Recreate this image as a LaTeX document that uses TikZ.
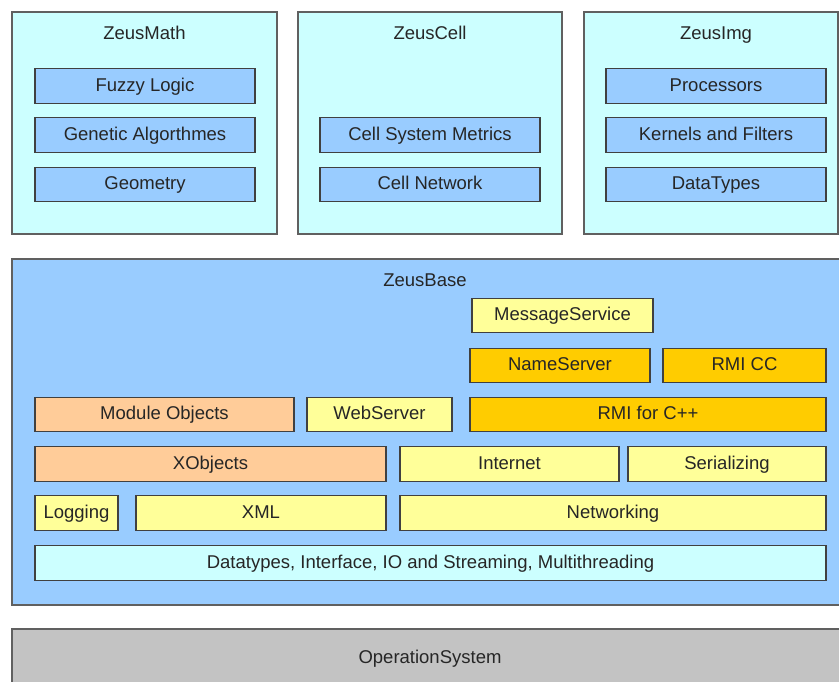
\documentclass[tikz,border=0pt]{standalone}
\usepackage{fontspec}
\setmainfont{Liberation Sans}
\definecolor{cyanl}{HTML}{CCFFFF}
\definecolor{bluel}{HTML}{99CCFF}
\definecolor{peach}{HTML}{FFCC99}
\definecolor{yell}{HTML}{FFFF99}
\definecolor{gold}{HTML}{FFCC00}
\definecolor{grayl}{HTML}{C3C3C3}
\definecolor{edge}{HTML}{404040}
\definecolor{outer}{HTML}{606060}
\begin{document}
\begin{tikzpicture}[x=1pt,y=-1pt,
  every node/.style={font=\fontsize{18.5}{21}\selectfont, text=black!85, text height=13.2pt, text depth=3pt},
  box/.style={draw=edge, line width=1.2pt, inner sep=0pt, outer sep=0pt, minimum height=34.5pt},
  container/.style={draw=outer, line width=1.2pt, inner sep=0pt, outer sep=0pt},
  lbl/.style={inner sep=0pt}]
\useasboundingbox (0,0) rectangle (839,682);
\clip (0,0) rectangle (839,682);
% top containers
\node[container, fill=cyanl, minimum width=265pt, minimum height=222pt] (zmath) at (144.5,123) {};
\node[container, fill=cyanl, minimum width=264pt, minimum height=222pt] (zcell) at (430,123) {};
\node[container, fill=cyanl, minimum width=254pt, minimum height=222pt] (zimg) at (711,123) {};
\node[lbl] (tmath) at (144.5,34) {ZeusMath};
\node[lbl] (tcell) at (430,34) {ZeusCell};
\node[lbl] (timg) at (716,34) {ZeusImg};
\node[box, fill=bluel, minimum width=220pt] (fuzzy) at (145,86) {Fuzzy Logic};
\node[box, fill=bluel, minimum width=220pt] (genetic) at (145,135) {Genetic Algorthmes};
\node[box, fill=bluel, minimum width=220pt] (geom) at (145,184.5) {Geometry};
\node[box, fill=bluel, minimum width=220pt] (cellsys) at (430,135) {Cell System Metrics};
\node[box, fill=bluel, minimum width=220pt] (cellnet) at (430,184.5) {Cell Network};
\node[box, fill=bluel, minimum width=220pt] (proc) at (716,86) {Processors};
\node[box, fill=bluel, minimum width=220pt] (kern) at (716,135) {Kernels and Filters};
\node[box, fill=bluel, minimum width=220pt] (dtypes) at (716,184.5) {DataTypes};
% ZeusBase
\node[container, fill=bluel, minimum width=830pt, minimum height=346pt] (zbase) at (427,432) {};
\node[lbl] (tbase) at (425,281) {ZeusBase};
\node[box, fill=yell, minimum width=181pt] (msg) at (562.5,315.5) {MessageService};
\node[box, fill=gold, minimum width=180pt] (names) at (560,365.5) {NameServer};
\node[box, fill=gold, minimum width=163pt] (rmicc) at (744.5,365.5) {RMI CC};
\node[box, fill=peach, minimum width=259pt] (modobj) at (164.5,414.5) {Module Objects};
\node[box, fill=yell, minimum width=145pt] (web) at (379.5,414.5) {WebServer};
\node[box, fill=gold, minimum width=356pt] (rmi) at (648,414.5) {RMI for C++};
\node[box, fill=peach, minimum width=351pt] (xobj) at (210.5,464) {XObjects};
\node[box, fill=yell, minimum width=219pt] (inet) at (509.5,464) {Internet};
\node[box, fill=yell, minimum width=198pt] (ser) at (727,464) {Serializing};
\node[box, fill=yell, minimum width=83pt] (log) at (76.5,513) {Logging};
\node[box, fill=yell, minimum width=250pt] (xml) at (261,513) {XML};
\node[box, fill=yell, minimum width=426pt] (net) at (613,513) {Networking};
\node[box, fill=cyanl, minimum width=791pt] (dt) at (430.5,563) {Datatypes, Interface, IO and Streaming, Multithreading};
% OS
\node[container, fill=grayl, minimum width=830pt, minimum height=80pt] (os) at (427,669) {};
\node[lbl] (tos) at (430,658) {OperationSystem};
\end{tikzpicture}
\end{document}
